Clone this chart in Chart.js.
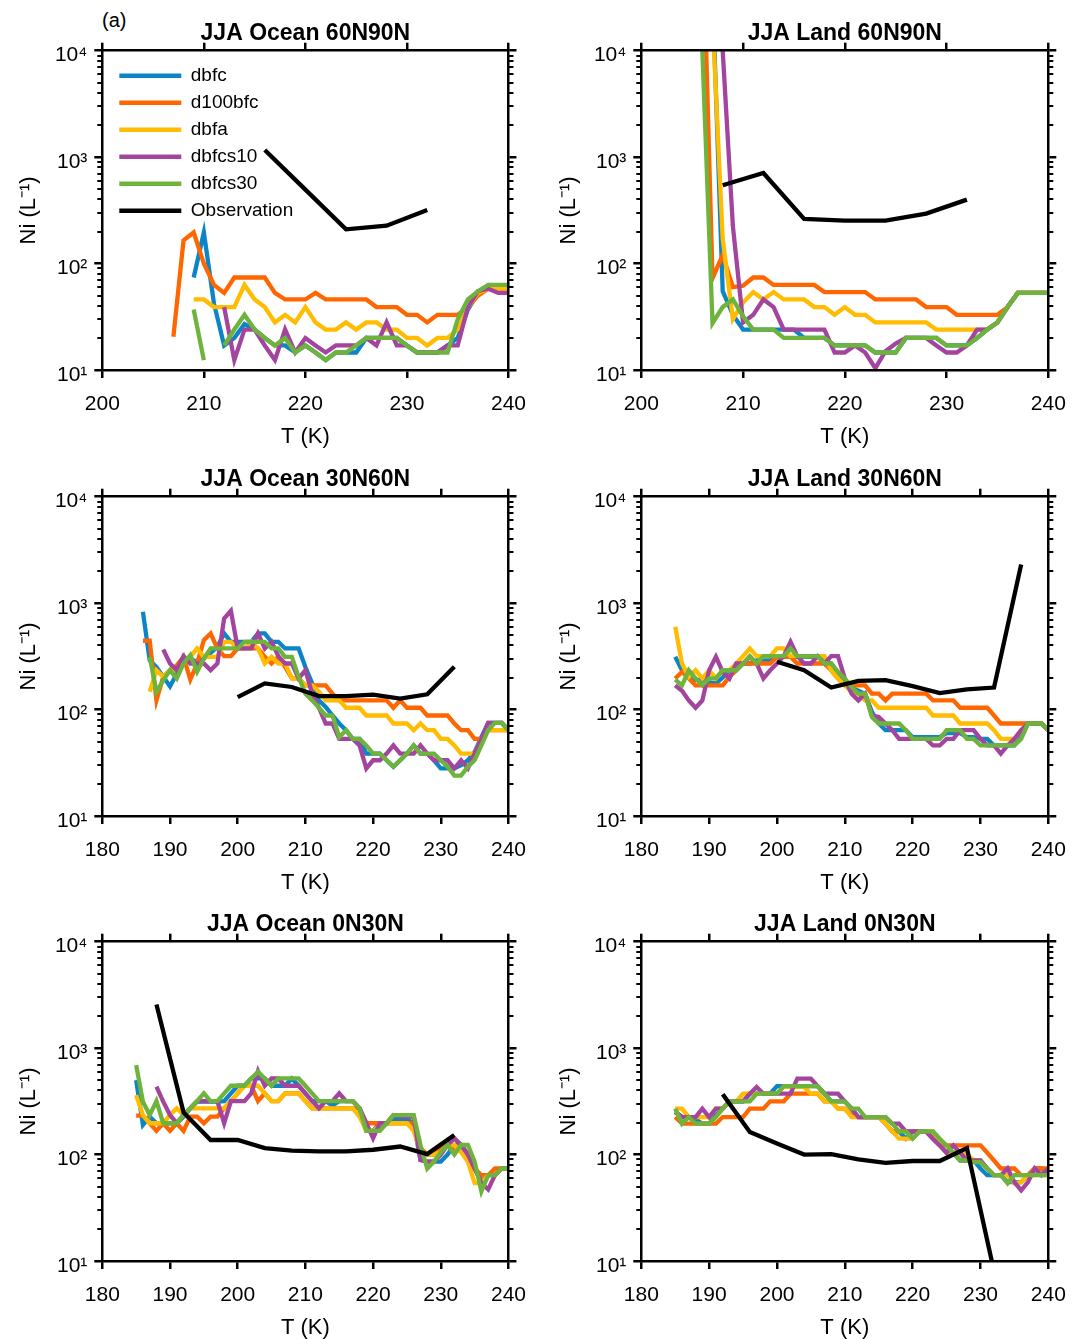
<!DOCTYPE html>
<html><head><meta charset="utf-8">
<script src="https://cdn.jsdelivr.net/npm/chart.js@4.4.1/dist/chart.umd.min.js"></script>
<style>
html,body{margin:0;padding:0;background:#fff;overflow:hidden;width:1081px;height:1339px;}
canvas{position:absolute;}
#lab{position:absolute;left:102px;top:8px;font-size:20px;line-height:24px;font-family:"Liberation Sans",Arial,Helvetica,sans-serif;color:#000;}
</style></head><body>
<div id="lab">(a)</div>
<canvas id="c0" width="540" height="450" style="left:0;top:0"></canvas>
<canvas id="c1" width="541" height="450" style="left:540px;top:0"></canvas>
<canvas id="c2" width="540" height="450" style="left:0;top:446px"></canvas>
<canvas id="c3" width="541" height="450" style="left:540px;top:446px"></canvas>
<canvas id="c4" width="540" height="450" style="left:0;top:891px"></canvas>
<canvas id="c5" width="541" height="450" style="left:540px;top:891px"></canvas>
<script>
// ---------------- DATA ----------------
const seriesNames = ['dbfc', 'd100bfc', 'dbfa', 'dbfcs10', 'dbfcs30', 'Observation'];
const xTicksHigh = [200, 210, 220, 230, 240];
const xTicksLow = [180, 190, 200, 210, 220, 230, 240];
const yMajorTicks = [10, 100, 1000, 10000];
const yMinorTicks = [20, 30, 40, 50, 60, 70, 80, 90, 200, 300, 400, 500, 600, 700, 800, 900, 2000, 3000, 4000, 5000, 6000, 7000, 8000, 9000];

const tempsHigh = [206,207,208,209,210,211,212,213,214,215,216,217,218,219,220,221,222,223,224,225,226,227,228,229,230,231,232,233,234,235,236,237,238,239,240];
const tempsLow = [185,186,187,188,189,190,191,192,193,194,195,196,197,198,199,200,201,202,203,204,205,206,207,208,209,210,211,212,213,214,215,216,217,218,219,220,221,222,223,224,225,226,227,228,229,230,231,232,233,234,235,236,237,238,239,240];

// JJA Ocean 60N90N
const oc60_dbfc = [null,null,null,74,196,42,17,20,27,24,20,17,17,14.6,17,14.6,12.4,14.6,14.6,14.6,20,20,20,20,17,14.6,14.6,14.6,17,20,37,53,61,55,55];
const oc60_d100bfc = [null,20.5,165,196,100,63,53,74,74,74,74,53,46,46,46,53,46,46,46,46,46,39,39,39,33,33,28,33,33,33,39,50,58,58,58];
const oc60_dbfa = [null,null,null,46,46,39,39,39,63,46,39,28,33,28,39,28,24,24,28,24,28,28,24,24,20,20,17,20,20,24,39,53,58,58,58];
const oc60_dbfcs10 = [null,null,null,null,null,null,39,12.4,24,24,17,12.4,24,14.6,20,17,14.6,17,17,17,20,17,28,17,17,14.6,14.6,14.6,17,17,39,55,58,53,53];
const oc60_dbfcs30 = [null,null,null,37,12.4,null,17,24,33,24,20,17,20,14.6,17,14.6,12.4,14.6,14.6,17,20,20,20,20,17,14.6,14.6,14.6,14.6,30,46,55,63,63,63];
const oc60_obsT = [216,220,224,228,232];
const oc60_obs = [1166,495,210,227,318];

// JJA Land 60N90N
const la60_dbfc = [null,35000,55,33,24,24,24,24,24,24,20,20,20,17,17,17,17,14.6,14.6,14.6,20,20,20,20,17,17,17,20,24,28,39,53,53,53,53];
const la60_d100bfc = [200000,73,120,60,62,74,74,63,63,63,63,63,54,54,54,54,54,46,46,46,46,46,39,39,39,33,33,33,33,33,39,53,53,53,53];
const la60_dbfa = [null,20000,170,30,43,54,46,54,46,46,46,39,39,33,39,33,33,28,28,28,28,28,28,24,24,24,24,24,24,28,39,53,53,53,53];
const la60_dbfcs10 = [null,null,10000,225,28,33,46,39,24,24,24,24,24,14.6,14.6,17,14.6,10.4,15,17.7,20,20,20,17,14.6,14.6,17,24,24,28,39,53,53,53,53];
const la60_dbfcs30 = [10000,27.5,39,46,32,24,24,24,20,20,20,20,20,17,17,17,17,14.6,14.6,14.6,20,20,20,20,17,17,17,20,24,28,39,53,53,53,53];
const la60_obsT = [208,212,216,220,224,228,232];
const la60_obs = [544,710,263,253,253,295,399];

// JJA Ocean 30N60N
const oc30_dbfc = [null,830,290,250,203,165,218,271,300,280, 300,340,390,519,433,433,433,433,519,519, 433,433,375,375,375,251,176,122,106,88, 74,64,53,53,38.6,38.6,38.6,33.4,29,33.4, 38.6,46,38.6,38.6,33.4,28,28,28,30,33.4, 40,55,75,75,75,64];
const oc30_d100bfc = [null,443,443,122,203,234,260,313,191,271, 449,519,375,318,318,375,375,375,375,313, 271,313,251,196,196,169,169,169,169,141, 122,122,122,122,122,122,122,122,104,122, 104,104,104,88,88,88,88,74,64,64, 53,53,64,64,64,64];
const oc30_dbfa = [null,null,147,234,203,234,234,271,313,375, 313,313,313,433,433,375,375,433,375,271, 313,271,271,196,196,169,169,147,122,122, 122,104,104,104,88,88,88,88,74,74, 74,64,74,64,64,53,53,46,38.6,38.6, 38.6,53,64,64,64,64];
const oc30_dbfcs10 = [null,null,null,null,367,271,234,318,271,271, 271,234,271,717,846,375,375,375,519,375, 433,318,271,271,196,234,141,104,74,74, 53,53,53,46,28,33.4,33.4,38.6,46,38.6, 38.6,38.6,46,38.6,33.4,33.4,33.4,28,33.4,28, 38.6,53,75,75,75,64];
const oc30_dbfcs30 = [null,null,313,147,188,234,196,271,324,226, 302,375,375,375,375,375,433,433,433,433, 375,375,313,313,203,141,122,104,88,88, 55,64,53,53,46,38.6,38.6,33.4,29,33.4, 38.6,46,38.6,38.6,38.6,33.4,29,24,24,29, 33.4,46,64,75,75,64];
const oc30_obsT = [200,204,208,212,216,220,224,228,232];
const oc30_obs = [131,176,163,134,134,138,127,139,252];

// JJA Land 30N60N
const la30_dbfc = [313,234,203,190,190,180,176,200,234,234, 271,271,290,290,290,313,313,313,313,313, 313,313,290,271,220,180,160,150,140,95, 74,64,64,64,64,55,55,55,55,55, 60,60,60,55,55,53,53,46,46,46, 46,55,74,74,74,64];
const la30_d100bfc = [196,226,196,169,169,169,169,169,203,234, 271,271,271,271,271,313,313,313,271,271, 271,271,271,234,196,169,169,169,169,141, 141,122,141,141,141,141,141,141,122,122, 122,122,104,104,104,104,104,88,74,74, 74,74,74,74,74,64];
const la30_dbfa = [600,271,203,234,196,234,196,234,234,271, 318,375,318,318,318,375,375,318,318,318, 318,318,318,234,196,169,147,141,122,122, 104,104,104,104,104,104,104,104,88,88, 88,88,74,74,74,74,74,64,53,53, 53,64,74,74,74,64];
const la30_dbfcs10 = [169,150,122,104,122,234,313,226,196,271, 271,313,271,196,234,271,318,433,318,271, 271,318,271,318,318,196,141,122,141,88, 85,74,64,53,53,53,53,53,46,46, 53,53,64,64,64,53,46,46,38.6,46, 53,64,74,74,74,64];
const la30_dbfcs30 = [191,169,234,196,169,196,196,234,234,234, 271,318,271,318,318,318,318,375,318,318, 318,318,271,271,226,196,163,141,141,85, 74,74,74,74,64,53,53,53,53,53, 64,64,64,53,53,46,46,46,46,46, 46,53,74,74,74,64];
const la30_obsT = [200,204,208,212,216,220,224,228,232,236];
const la30_obs = [281,234,161,186,189,166,143,155,161,2310];

// JJA Ocean 0N30N
const oc0_dbfc = [500,190,227,197,197,197,197,227,272,314, 314,314,314,318,376,443,443,519,519,519, 443,443,443,519,443,376,318,318,318,290, 318,318,318,272,167,167,197,197,215,215, 215,197,89,86,86,86,100,123,123,100, 74,56,64,64,74,74];
const oc0_d100bfc = [232,232,197,167,197,167,197,167,227,227, 197,227,227,272,318,376,443,443,318,376, 318,318,376,376,376,318,272,272,272,272, 272,272,272,272,197,197,197,197,197,197, 197,197,115,100,100,115,123,115,123,100, 74,64,64,74,74,74];
const oc0_dbfa = [362,235,197,197,197,235,272,235,272,272, 272,272,272,272,318,376,443,443,443,376, 318,318,376,376,376,318,272,272,272,272, 272,272,272,227,167,167,185,197,197,197, 197,167,105,100,100,105,123,123,105,86, 54,54,64,64,74,74];
const oc0_dbfcs10 = [null,null,null,434,314,235,197,235,272,318, 318,318,318,197,318,318,318,376,609,443, 519,519,443,443,443,376,318,272,318,318, 376,318,318,272,197,142,197,197,235,227, 227,227,89,86,86,100,123,142,123,100, 74,54,47,64,74,74];
const oc0_dbfcs30 = [692,314,235,318,197,197,197,235,272,318, 376,318,318,376,443,443,443,519,600,519, 443,519,519,519,519,443,376,318,318,318, 318,318,318,272,167,167,167,197,235,235, 235,235,123,74,86,105,123,100,123,123, 86,45,64,64,74,74];
const oc0_obsT = [188,192,196,200,204,208,212,216,220,224,228,232];
const oc0_obs = [2567,249,137,137,115,109,107,107,111,119,101,153];

// JJA Land 0N30N
const la0_dbfc = [251,225,225,215,195,195,234,270,316,316, 316,373,373,373,373,440,440,440,440,440, 440,440,373,316,316,316,270,225,225,225, 225,195,165,165,141,165,165,165,141,122, 104,104,88,88,88,74,64,64,64,55, 55,55,64,74,74,64];
const la0_d100bfc = [225,195,195,195,195,195,195,225,225,225, 225,270,270,270,316,316,316,373,373,373, 373,373,316,316,270,270,234,225,225,225, 225,195,165,165,165,165,165,165,141,122, 122,122,122,122,122,122,104,88,74,74, 74,64,64,74,74,74];
const la0_dbfa = [270,270,225,225,225,225,270,270,316,316, 373,373,373,373,373,373,432,432,432,432, 373,373,316,316,270,270,225,225,225,225, 225,195,165,141,141,141,165,165,165,122, 104,104,104,100,88,88,74,64,64,64, 53.5,55,64,64,64,64];
const la0_dbfcs10 = [251,225,225,225,270,225,270,270,316,316, 316,373,432,373,373,373,373,373,516,516, 516,440,373,373,373,316,270,225,225,225, 225,225,195,195,165,165,165,165,141,122, 104,122,104,88,88,88,74,64,64,74, 55,46,55,74,64,74];
const la0_dbfcs30 = [270,195,225,195,195,195,225,270,316,316, 316,316,373,373,373,373,440,440,440,440, 440,440,373,316,316,316,270,270,225,225, 225,225,195,165,165,141,165,165,165,141, 122,104,88,88,85,85,74,64,64,53.5, 64,64,64,64,64,64];
const la0_obsT = [192,196,200,204,208,212,216,220,224,228,232];
const la0_obs = [368,163,127,100,101,90,83.5,87,87,115,8];

// ---------------- RENDERING ----------------
const FONT = '"Liberation Sans", Arial, Helvetica, sans-serif';
const COLORS = ['#0b85c8', '#ff6600', '#ffbc00', '#a3459f', '#6eb43c', '#000000'];
Chart.defaults.font.family = FONT;
Chart.defaults.color = '#000';

const SUP = {1: '\u00B9', 2: '\u00B2', 3: '\u00B3', 4: '\u2074'};
function yLabel(v) { return '10' + SUP[Math.round(Math.log10(v))]; }
function pts(t, v) { return t.map((x, i) => ({x: x, y: v[i]})); }

const panels = [
  {id: 'c0', title: 'JJA Ocean 60N90N', temps: tempsHigh, xTicks: xTicksHigh, series: [oc60_dbfc, oc60_d100bfc, oc60_dbfa, oc60_dbfcs10, oc60_dbfcs30], obsT: oc60_obsT, obs: oc60_obs, legend: true, leftW: 102.3, rightW: 29.3},
  {id: 'c1', title: 'JJA Land 60N90N', temps: tempsHigh, xTicks: xTicksHigh, series: [la60_dbfc, la60_d100bfc, la60_dbfa, la60_dbfcs10, la60_dbfcs30], obsT: la60_obsT, obs: la60_obs, legend: false, leftW: 101.3, rightW: 32.7},
  {id: 'c2', title: 'JJA Ocean 30N60N', temps: tempsLow, xTicks: xTicksLow, series: [oc30_dbfc, oc30_d100bfc, oc30_dbfa, oc30_dbfcs10, oc30_dbfcs30], obsT: oc30_obsT, obs: oc30_obs, legend: false, leftW: 102.3, rightW: 29.3},
  {id: 'c3', title: 'JJA Land 30N60N', temps: tempsLow, xTicks: xTicksLow, series: [la30_dbfc, la30_d100bfc, la30_dbfa, la30_dbfcs10, la30_dbfcs30], obsT: la30_obsT, obs: la30_obs, legend: false, leftW: 101.3, rightW: 32.7},
  {id: 'c4', title: 'JJA Ocean 0N30N', temps: tempsLow, xTicks: xTicksLow, series: [oc0_dbfc, oc0_d100bfc, oc0_dbfa, oc0_dbfcs10, oc0_dbfcs30], obsT: oc0_obsT, obs: oc0_obs, legend: false, leftW: 102.3, rightW: 29.3},
  {id: 'c5', title: 'JJA Land 0N30N', temps: tempsLow, xTicks: xTicksLow, series: [la0_dbfc, la0_d100bfc, la0_dbfa, la0_dbfcs10, la0_dbfcs30], obsT: la0_obsT, obs: la0_obs, legend: false, leftW: 101.3, rightW: 32.7}
];

// places the in-plot legend at the upper-left of the plot area
const legendShift = {
  id: 'legendShift',
  afterLayout(chart) {
    if (chart.legend && chart.options.plugins.legend.display) {
      const ca = chart.chartArea;
      chart.legend.left = ca.left + 9;
      chart.legend.top = ca.top + 7.5;
      chart.legend.bottom = ca.bottom;
      chart.legend.right = ca.right;
    }
  }
};

function gridOpts(len, w) {
  return {display: true, drawOnChartArea: false, drawTicks: true, tickLength: len, tickWidth: w, tickColor: '#000', color: '#000', lineWidth: w};
}
const borderOpts = {display: true, color: '#000', width: 2.5, z: 1};

panels.forEach(p => {
  const datasets = p.series.map((vals, i) => ({
    label: seriesNames[i], data: pts(p.temps, vals), borderColor: COLORS[i], backgroundColor: COLORS[i],
    borderWidth: 4.3, pointRadius: 0, pointHoverRadius: 0, order: 6 - i, xAxisID: 'x', yAxisID: 'y', spanGaps: false
  }));
  datasets.push({
    label: seriesNames[5], data: pts(p.obsT, p.obs), borderColor: COLORS[5], backgroundColor: COLORS[5],
    borderWidth: 4.3, pointRadius: 0, pointHoverRadius: 0, order: 0, xAxisID: 'x', yAxisID: 'y'
  });
  const xMin = p.xTicks[0], xMax = p.xTicks[p.xTicks.length - 1];
  const setX = s => { s.ticks = p.xTicks.map(v => ({value: v})); };
  const setMaj = s => { s.ticks = yMajorTicks.map(v => ({value: v})); };
  const setMin = s => { s.ticks = yMinorTicks.map(v => ({value: v})); };
  new Chart(document.getElementById(p.id), {
    type: 'line',
    data: {datasets: datasets},
    plugins: [legendShift],
    options: {
      responsive: false, animation: false, devicePixelRatio: 1, events: [],
      layout: {padding: 0},
      plugins: {
        title: {display: true, text: p.title, fullSize: false, color: '#000',
          font: {family: FONT, size: 23, weight: 'bold', lineHeight: 1.2}, padding: {top: 20, bottom: 0}},
        legend: p.legend ? {
          display: true, position: 'chartArea', align: 'start',
          labels: {font: {family: FONT, size: 19}, color: '#000', boxWidth: 62, boxHeight: 4.5, padding: 8,
            generateLabels: (chart) => chart.data.datasets.map((d, i) => ({
              text: d.label, fillStyle: d.borderColor, strokeStyle: d.borderColor, lineWidth: 0,
              hidden: false, datasetIndex: i, fontColor: '#000'}))}
        } : {display: false},
        tooltip: {enabled: false}
      },
      scales: {
        x: {type: 'linear', axis: 'x', position: 'bottom', min: xMin, max: xMax,
          afterBuildTicks: setX, afterFit: s => { s.height = 80; },
          grid: gridOpts(8, 2.5), border: borderOpts,
          ticks: {font: {family: FONT, size: 21}, color: '#000', padding: 14, maxRotation: 0, autoSkip: false, callback: v => String(v)},
          title: {display: true, text: 'T (K)', color: '#000', font: {family: FONT, size: 22, lineHeight: 1.2}, padding: {top: 0, bottom: 0}}},
        xT: {type: 'linear', axis: 'x', position: 'top', min: xMin, max: xMax,
          afterBuildTicks: setX, afterFit: s => { s.height = 3.1; },
          grid: gridOpts(8, 2.5), border: borderOpts, ticks: {display: false}},
        y: {type: 'logarithmic', axis: 'y', position: 'left', weight: 1, min: 10, max: 10000,
          afterBuildTicks: setMaj, afterFit: s => { s.width = p.leftW; },
          grid: gridOpts(8, 2.5), border: borderOpts,
          ticks: {font: {family: FONT, size: 21}, color: '#000', padding: 7, labelOffset: 5, autoSkip: false, callback: yLabel},
          title: {display: true, text: 'Ni (L\u207B\u00B9)', color: '#000', font: {family: FONT, size: 22, lineHeight: 1.2}, padding: {top: 15.4, bottom: 0}}},
        yMin: {type: 'logarithmic', axis: 'y', position: 'left', weight: 0, min: 10, max: 10000,
          afterBuildTicks: setMin, afterFit: s => { s.width = 0; },
          grid: gridOpts(5, 2), border: {display: false}, ticks: {display: false}},
        yR: {type: 'logarithmic', axis: 'y', position: 'right', weight: 1, min: 10, max: 10000,
          afterBuildTicks: setMaj, afterFit: s => { s.width = p.rightW; },
          grid: gridOpts(8, 2.5), border: borderOpts, ticks: {display: false}},
        yRMin: {type: 'logarithmic', axis: 'y', position: 'right', weight: 0, min: 10, max: 10000,
          afterBuildTicks: setMin, afterFit: s => { s.width = 0; },
          grid: gridOpts(5, 2), border: {display: false}, ticks: {display: false}}
      }
    }
  });
});
</script>
</body></html>
